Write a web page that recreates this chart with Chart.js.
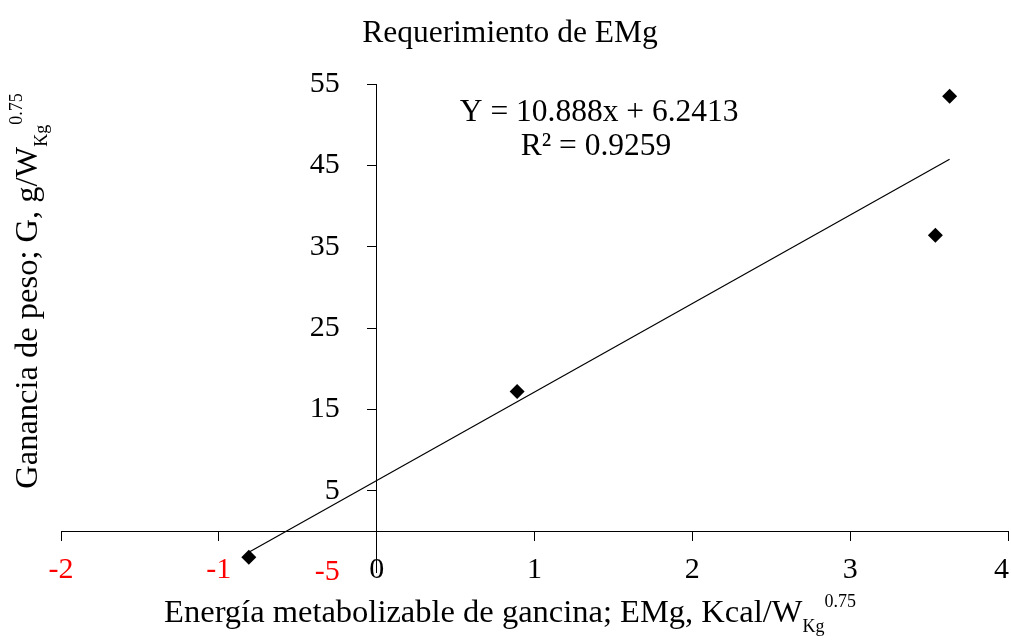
<!DOCTYPE html>
<html>
<head>
<meta charset="utf-8">
<title>Requerimiento de EMg</title>
<script src="https://cdn.jsdelivr.net/npm/chart.js@4.4.1/dist/chart.umd.min.js"></script>
<style>
  body { margin: 0; background: #fff; }
</style>
</head>
<body>
<canvas id="chart" width="1011" height="640"></canvas>
<script>
// valores
var energia = [-0.81, 0.89, 3.54, 3.63];
var ganancia = [-3.2, 17.2, 36.4, 53.5];

// linea de tendencia (extremos)
var tendenciaX = [-0.81, 3.63];
var tendenciaY = [-2.58, 45.76];

var ticksX = [-2, -1, 0, 1, 2, 3, 4];
var ticksY = [-5, 5, 15, 25, 35, 45, 55];

var titulo = 'Requerimiento de EMg';
var ecuacion = 'Y = 10.888x + 6.2413';
var r2 = 'R² = 0.9259';

var fuente = 'Liberation Serif, Times New Roman, serif';
Chart.defaults.font.family = fuente;
Chart.defaults.color = '#000';

function colorTick(ctx) {
    return ctx.tick && ctx.tick.value < 0 ? '#ff0000' : '#000000';
}

// dibuja texto con subindice y superindice, centrado en cx
function textoRico(ctx, partes, cx, base) {
    var total = 0;
    partes.forEach(function (p) {
        ctx.font = p.size + 'px ' + fuente;
        p.w = ctx.measureText(p.text).width;
        total += p.w;
    });
    var x = cx - total / 2;
    ctx.textAlign = 'left';
    ctx.textBaseline = 'alphabetic';
    ctx.fillStyle = '#000';
    partes.forEach(function (p) {
        ctx.font = p.size + 'px ' + fuente;
        ctx.fillText(p.text, x, base + p.dy);
        x += p.w;
    });
}

var textos = {
    id: 'textos',
    beforeDraw: function (chart) {
        var ctx = chart.ctx;
        // etiquetas del eje y a la izquierda de la linea del eje
        chart.scales.y.getLabelItems().forEach(function (it) {
            if (!it._movido) {
                it.options.translation[0] -= 37;
                it._movido = true;
            }
        });
        // la ultima etiqueta del eje x no debe salirse del lienzo
        chart.scales.x.getLabelItems().forEach(function (it) {
            if (it._movido) return;
            ctx.font = it.font.string;
            var w = ctx.measureText(String(it.label)).width;
            var sobra = it.options.translation[0] + w / 2 - (chart.width - 2);
            if (sobra > 0) it.options.translation[0] -= sobra;
            it._movido = true;
        });
    },
    afterDraw: function (chart) {
        var ctx = chart.ctx;
        var xs = chart.scales.x, ys = chart.scales.y;
        ctx.save();
        ctx.fillStyle = '#000';
        ctx.font = '31.5px ' + fuente;
        ctx.textAlign = 'center';
        ctx.textBaseline = 'alphabetic';
        ctx.fillText(titulo, 510, 42);

        textoRico(ctx, [
            {text: 'Energía metabolizable de gancina; EMg, Kcal/W', size: 32.5, dy: 0},
            {text: 'Kg', size: 18, dy: 10},
            {text: '0.75', size: 18, dy: -15}
        ], 510, 622);

        ctx.save();
        ctx.translate(37, 291);
        ctx.rotate(-Math.PI / 2);
        textoRico(ctx, [
            {text: 'Ganancia de peso; G, g/W', size: 32.5, dy: 0},
            {text: 'Kg', size: 18, dy: 10},
            {text: '0.75', size: 18, dy: -15}
        ], 0, 0);
        ctx.restore();

        ctx.font = '31.5px ' + fuente;
        ctx.textAlign = 'center';
        ctx.fillText(ecuacion, xs.getPixelForValue(1.41), ys.getPixelForValue(50.5));
        ctx.fillText(r2, xs.getPixelForValue(1.39), ys.getPixelForValue(46.3));
        ctx.restore();
    }
};

var ctx = document.getElementById('chart').getContext('2d');
var chart = new Chart(ctx, {
    type: 'scatter',
    data: {
        datasets: [{
            label: 'G',
            data: energia.map(function (x, i) { return {x: x, y: ganancia[i]}; }),
            pointStyle: 'rectRot',
            pointRadius: 7.5,
            pointHoverRadius: 7.5,
            backgroundColor: '#000',
            borderColor: '#000',
            borderWidth: 0
        }, {
            label: 'Tendencia',
            data: tendenciaX.map(function (x, i) { return {x: x, y: tendenciaY[i]}; }),
            showLine: true,
            pointRadius: 0,
            borderColor: '#000',
            borderWidth: 1.2
        }]
    },
    options: {
        responsive: false,
        animation: false,
        layout: {
            autoPadding: false,
            padding: {left: 61, right: 3, top: 84, bottom: 68}
        },
        plugins: {
            legend: {display: false},
            tooltip: {enabled: false},
            title: {display: false}
        },
        scales: {
            x: {
                type: 'linear',
                position: {y: 0},
                min: -2,
                max: 4,
                afterBuildTicks: function (scale) {
                    scale.ticks = ticksX.map(function (v) { return {value: v}; });
                },
                afterFit: function (scale) {
                    // sin margen extra por las etiquetas de los extremos
                    scale.paddingLeft = 0;
                    scale.paddingRight = 0;
                },
                border: {display: true, color: '#000', width: 1},
                grid: {drawOnChartArea: false, drawTicks: true, tickLength: 9, color: '#000'},
                ticks: {
                    autoSkip: false,
                    maxRotation: 0,
                    padding: 12,
                    color: colorTick,
                    font: {size: 30}
                }
            },
            y: {
                type: 'linear',
                position: {x: 0},
                min: -5,
                max: 55,
                afterBuildTicks: function (scale) {
                    scale.ticks = ticksY.map(function (v) { return {value: v}; });
                },
                border: {display: true, color: '#000', width: 1},
                grid: {
                    drawOnChartArea: false,
                    drawTicks: true,
                    tickLength: 9,
                    color: function (c) { return c.tick && c.tick.value === -5 ? 'rgba(0,0,0,0)' : '#000'; }
                },
                ticks: {
                    autoSkip: false,
                    color: colorTick,
                    font: {size: 30}
                }
            }
        }
    },
    plugins: [textos]
});
</script>
</body>
</html>
